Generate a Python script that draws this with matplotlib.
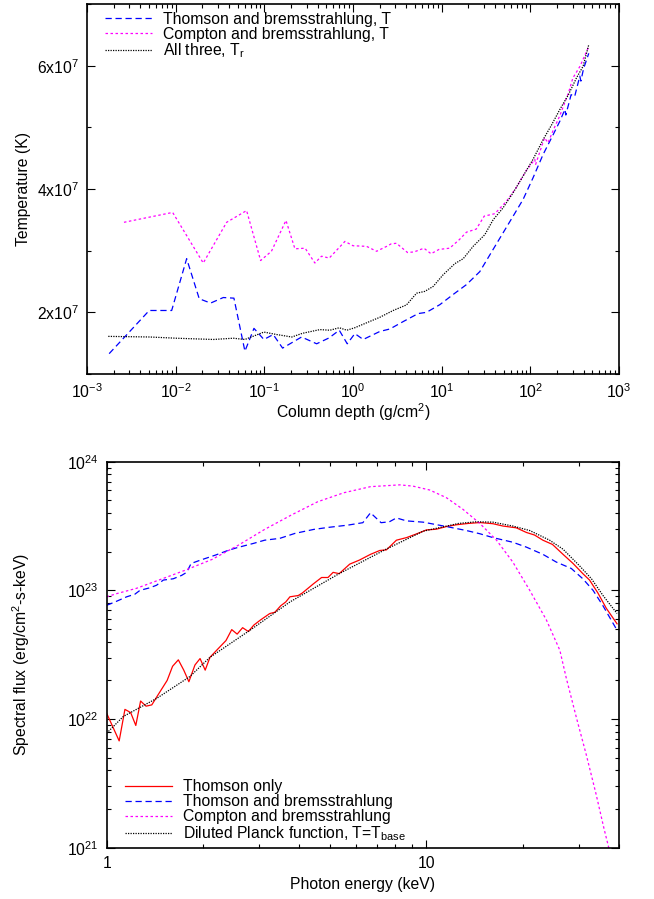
import numpy as np
import matplotlib
matplotlib.use("Agg")
import matplotlib.pyplot as plt
from matplotlib.ticker import FixedLocator, FixedFormatter, LogLocator, NullFormatter, MultipleLocator

FS = 11.3
plt.rcParams['font.family'] = ['Liberation Sans', 'DejaVu Sans']
plt.rcParams['mathtext.fontset'] = 'custom'
plt.rcParams['mathtext.rm'] = 'Liberation Sans'
plt.rcParams['mathtext.it'] = 'Liberation Sans'
plt.rcParams['mathtext.default'] = 'regular'
plt.rcParams['font.size'] = FS

# ---------------- Temperature profiles vs column depth ----------------
# log10 of column depth (g/cm^2) and temperature in units of 1e7 K
tb_logcol = [-2.75, -2.298, -2.045, -1.876, -1.734, -1.606, -1.463, -1.343, -1.219,
             -1.117, -1.005, -0.90, -0.794, -0.58, -0.41, -0.27, -0.155, -0.065,
             0.021, 0.115, 0.303, 0.416, 0.566, 0.735, 0.829, 0.98, 1.13, 1.28,
             1.43, 1.58, 1.693, 1.806, 1.918, 2.03, 2.144, 2.257, 2.333, 2.39,
             2.40, 2.46, 2.50, 2.558, 2.57, 2.60, 2.659]
tb_temp = [1.33, 2.03, 2.03, 2.87, 2.22, 2.15, 2.24, 2.23, 1.37,
           1.74, 1.56, 1.64, 1.42, 1.60, 1.49, 1.585, 1.71, 1.49,
           1.655, 1.56, 1.69, 1.73, 1.85, 1.98, 2.00, 2.125, 2.29, 2.45,
           2.66, 3.02, 3.29, 3.56, 3.83, 4.18, 4.56, 4.88, 5.10, 5.29,
           5.20, 5.53, 5.50, 5.83, 5.75, 5.95, 6.20]

cb_logcol = [-2.583, -2.034, -1.689, -1.425, -1.20, -1.042, -0.92, -0.756, -0.655,
             -0.54, -0.43, -0.355, -0.268, -0.091, 0.0, 0.153, 0.266, 0.38,
             0.43, 0.49, 0.615, 0.69, 0.80, 0.88, 0.97, 1.09, 1.20, 1.28,
             1.39, 1.48, 1.60, 1.73, 1.84, 1.95, 2.05, 2.06, 2.16, 2.20,
             2.26, 2.33, 2.43, 2.48, 2.56, 2.659]
cb_temp = [3.46, 3.62, 2.80, 3.46, 3.65, 2.84, 2.99, 3.49, 3.03,
           3.04, 2.80, 2.91, 2.88, 3.15, 3.08, 3.07, 2.99, 3.07,
           3.11, 3.12, 2.97, 2.98, 3.04, 2.95, 3.02, 3.04, 3.18, 3.30,
           3.35, 3.56, 3.60, 3.80, 4.02, 4.29, 4.48, 4.40, 4.83, 4.75,
           4.96, 5.18, 5.56, 5.80, 5.99, 6.31]

tr_logcol = [-2.76, -2.29, -1.99, -1.576, -1.35, -1.219, -1.005, -0.861, -0.69,
             -0.57, -0.373, -0.26, -0.155, -0.07, 0.02, 0.153, 0.303, 0.453,
             0.603, 0.717, 0.81, 0.904, 1.017, 1.149, 1.243, 1.355, 1.487, 1.58,
             1.69, 1.806, 1.918, 2.03, 2.144, 2.24, 2.333, 2.43, 2.52, 2.595, 2.659]
tr_temp = [1.61, 1.60, 1.58, 1.56, 1.58, 1.56, 1.68, 1.64, 1.60,
           1.66, 1.72, 1.71, 1.75, 1.71, 1.75, 1.83, 1.92, 2.03,
           2.12, 2.31, 2.34, 2.42, 2.61, 2.79, 2.87, 3.07, 3.26, 3.50,
           3.69, 3.94, 4.21, 4.48, 4.80, 5.04, 5.29, 5.53, 5.80, 5.99, 6.34]

temp_ticks = [2e7, 4e7, 6e7]
temp_ticklabels = [r'$2x10^{7}$', r'$4x10^{7}$', r'$6x10^{7}$']

# ---------------- Emergent spectra ----------------
# log10 of photon energy (keV) and log10 of spectral flux
th_logE = [0.0, 0.019, 0.039, 0.057, 0.075, 0.091, 0.106, 0.123, 0.141, 0.156,
           0.189, 0.206, 0.224, 0.241, 0.257, 0.276, 0.292, 0.308, 0.323, 0.344,
           0.373, 0.391, 0.408, 0.425, 0.443, 0.460, 0.481, 0.510, 0.526, 0.544,
           0.560, 0.573, 0.599, 0.612, 0.646, 0.672, 0.692, 0.708, 0.727, 0.760,
           0.790, 0.825, 0.854, 0.875, 0.906, 0.9375, 0.97, 1.0, 1.03, 1.0625,
           1.094, 1.13, 1.167, 1.208, 1.239, 1.281, 1.3125, 1.338, 1.364, 1.394,
           1.427, 1.458, 1.489, 1.51, 1.536, 1.5625, 1.596]
th_logF = [22.044, 21.94, 21.83, 22.075, 22.05, 21.95, 22.14, 22.10, 22.11, 22.17,
           22.30, 22.41, 22.46, 22.38, 22.29, 22.42, 22.47, 22.38, 22.48, 22.535,
           22.61, 22.695, 22.66, 22.71, 22.68, 22.73, 22.77, 22.82, 22.83, 22.88,
           22.91, 22.95, 22.96, 22.98, 23.05, 23.10, 23.10, 23.14, 23.13, 23.204,
           23.235, 23.28, 23.31, 23.315, 23.39, 23.41, 23.44, 23.47, 23.475, 23.496,
           23.51, 23.52, 23.527, 23.518, 23.50, 23.486, 23.45, 23.43, 23.39, 23.357,
           23.28, 23.21, 23.13, 23.08, 22.98, 22.86, 22.74]

tbs_logE = [0.0, 0.026, 0.0625, 0.088, 0.104, 0.135, 0.156, 0.177, 0.208, 0.234,
            0.25, 0.264, 0.293, 0.340, 0.382, 0.411, 0.459, 0.494, 0.541, 0.589,
            0.648, 0.695, 0.754, 0.801, 0.825, 0.858, 0.884, 0.906, 0.9375, 0.99,
            1.0625, 1.125, 1.167, 1.208, 1.27, 1.3125, 1.364, 1.406, 1.453, 1.489,
            1.521, 1.552, 1.596]
tbs_logF = [22.884, 22.91, 22.95, 22.97, 23.0, 23.02, 23.04, 23.08, 23.09, 23.116,
            23.14, 23.209, 23.235, 23.274, 23.313, 23.334, 23.365, 23.39, 23.404, 23.443,
            23.474, 23.49, 23.507, 23.526, 23.603, 23.526, 23.533, 23.563, 23.54, 23.53,
            23.496, 23.465, 23.44, 23.41, 23.374, 23.336, 23.28, 23.22, 23.17, 23.09,
            23.0, 22.88, 22.69]

cbs_logE = [0.0, 0.033, 0.092, 0.163, 0.246, 0.329, 0.411, 0.494, 0.577, 0.660,
            0.742, 0.825, 0.9165, 0.958, 1.01, 1.0625, 1.114, 1.167, 1.219, 1.27,
            1.323, 1.375, 1.417, 1.4375, 1.47, 1.50, 1.53, 1.555, 1.575]
cbs_logF = [22.95, 22.976, 23.015, 23.08, 23.157, 23.24, 23.35, 23.474, 23.585, 23.689,
            23.759, 23.806, 23.82, 23.81, 23.78, 23.72, 23.63, 23.52, 23.39, 23.22,
            23.0, 22.77, 22.535, 22.315, 22.0, 21.72, 21.42, 21.15, 20.95]

pl_logE = [0.0, 0.052, 0.156, 0.26, 0.323, 0.448, 0.573, 0.727, 0.872, 0.99,
           1.10, 1.156, 1.208, 1.27, 1.323, 1.385, 1.427, 1.479, 1.516, 1.552, 1.596]
pl_logF = [21.89, 22.02, 22.16, 22.33, 22.48, 22.69, 22.91, 23.13, 23.318, 23.46,
           23.52, 23.533, 23.53, 23.50, 23.465, 23.39, 23.32, 23.19, 23.09, 22.96, 22.82]

fig = plt.figure(figsize=(6.54, 8.99), dpi=100)

W, H = 654.0, 899.0
ax1 = fig.add_axes([87 / W, 1 - 374 / H, (619 - 87) / W, (374 - 4) / H])
ax2 = fig.add_axes([106.7 / W, 1 - 847.7 / H, (619 - 106.7) / W, (847.7 - 461.7) / H])

lw = 0.9
ax1.plot(10 ** np.array(tb_logcol), np.array(tb_temp) * 1e7, color='#0000ff', lw=lw,
         dashes=(5, 3), label='Thomson and bremsstrahlung, T')
ax1.plot(10 ** np.array(cb_logcol), np.array(cb_temp) * 1e7, color='#ff00ff', lw=lw,
         dashes=(2, 2), label='Compton and bremsstrahlung, T')
ax1.plot(10 ** np.array(tr_logcol), np.array(tr_temp) * 1e7, color='black', lw=lw,
         dashes=(1, 1), label=r'All three, T$_r$')
ax1.set_xscale('log')
ax1.set_xlim(1e-3, 1e3)
ax1.set_ylim(1e7, 7e7)
ax1.yaxis.set_major_locator(FixedLocator(temp_ticks))
ax1.yaxis.set_major_formatter(FixedFormatter(temp_ticklabels))
ax1.yaxis.set_minor_locator(MultipleLocator(1e7))
ax1.xaxis.set_major_locator(LogLocator(base=10, numticks=10))
ax1.xaxis.set_minor_locator(LogLocator(base=10, subs=np.arange(2, 10), numticks=20))
ax1.xaxis.set_minor_formatter(NullFormatter())
ax1.set_xlabel(r'Column depth (g/cm$^2$)')
ax1.set_ylabel('Temperature (K)')
ax1.xaxis.set_label_coords(0.5, -0.075)
ax1.yaxis.set_label_coords(-0.105, 0.5)
ax1.legend(loc='upper left', bbox_to_anchor=(0.034, 0.979), frameon=False,
           borderaxespad=0, borderpad=0, handlelength=3.0, handletextpad=0.7,
           labelspacing=0.0, fontsize=FS)

ax2.plot(10 ** np.array(th_logE), 10 ** np.array(th_logF), color='#ff0000', lw=lw,
         label='Thomson only')
ax2.plot(10 ** np.array(tbs_logE), 10 ** np.array(tbs_logF), color='#0000ff', lw=lw,
         dashes=(5, 3), label='Thomson and bremsstrahlung')
ax2.plot(10 ** np.array(cbs_logE), 10 ** np.array(cbs_logF), color='#ff00ff', lw=lw,
         dashes=(2, 2), label='Compton and bremsstrahlung')
ax2.plot(10 ** np.array(pl_logE), 10 ** np.array(pl_logF), color='black', lw=lw,
         dashes=(1, 1), label=r'Diluted Planck function, T=T$_{base}$')
ax2.set_xscale('log')
ax2.set_yscale('log')
ax2.set_xlim(1, 40)
ax2.set_ylim(1e21, 1e24)
ax2.xaxis.set_major_locator(FixedLocator([1, 10]))
ax2.xaxis.set_major_formatter(FixedFormatter(['1', '10']))
ax2.xaxis.set_minor_locator(LogLocator(base=10, subs=np.arange(2, 10), numticks=20))
ax2.xaxis.set_minor_formatter(NullFormatter())
ax2.yaxis.set_minor_locator(LogLocator(base=10, subs=np.arange(2, 10), numticks=20))
ax2.yaxis.set_minor_formatter(NullFormatter())
ax2.set_xlabel('Photon energy (keV)')
ax2.set_ylabel(r'Spectral flux (erg/cm$^2$-s-keV)')
ax2.xaxis.set_label_coords(0.5, -0.075)
ax2.yaxis.set_label_coords(-0.145, 0.5)
ax2.legend(loc='lower left', bbox_to_anchor=(0.036, 0.012), frameon=False,
           borderaxespad=0, borderpad=0, handlelength=3.0, handletextpad=0.7,
           labelspacing=0.0, fontsize=FS)

for ax in (ax1, ax2):
    ax.tick_params(which='both', direction='in', top=True, right=True, labelsize=FS)
    ax.tick_params(which='major', length=6, width=0.8, pad=6)
    ax.tick_params(which='minor', length=3, width=0.8)
    for s in ax.spines.values():
        s.set_linewidth(1.2)

fig.savefig('out.png', dpi=100)
